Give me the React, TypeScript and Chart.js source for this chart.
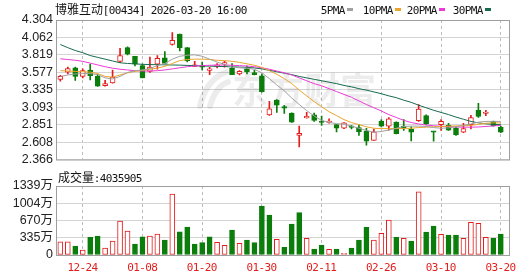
import React, { useEffect, useRef } from "react";
import { Chart, registerables } from "chart.js";

Chart.register(...registerables);

// ---------- data ----------
const dates = [
  "12-19", "12-22", "12-23", "12-24", "12-29", "12-30", "12-31", "01-02", "01-05", "01-06",
  "01-07", "01-08", "01-09", "01-12", "01-13", "01-14", "01-15", "01-16", "01-19", "01-20",
  "01-21", "01-22", "01-23", "01-26", "01-27", "01-28", "01-29", "01-30", "02-02", "02-03",
  "02-04", "02-05", "02-06", "02-09", "02-10", "02-11", "02-12", "02-13", "02-16", "02-20",
  "02-23", "02-24", "02-25", "02-26", "02-27", "03-02", "03-03", "03-04", "03-05", "03-06",
  "03-09", "03-10", "03-11", "03-12", "03-13", "03-16", "03-17", "03-18", "03-19", "03-20",
];

const opens = [
  3.48, 3.58, 3.64, 3.52, 3.61, 3.52, 3.39, 3.43, 3.73, 3.92,
  3.80, 3.67, 3.59, 3.69, 3.78, 3.965, 4.11, 3.92, 3.66, 3.66,
  3.605, 3.66, 3.69, 3.635, 3.555, 3.63, 3.575, 3.53, 2.985, 3.19,
  3.10, 3.01, 2.70, 2.945, 2.985, 2.895, 2.88, 2.85, 2.80, 2.82,
  2.81, 2.76, 2.63, 2.90, 2.83, 2.885, 2.83, 2.79, 2.905, 2.975,
  2.75, 2.85, 2.84, 2.80, 2.745, 2.85, 3.05, 3.005, 2.895, 2.815,
];
const closes = [
  3.52, 3.63, 3.52, 3.60, 3.53, 3.385, 3.42, 3.51, 3.81, 3.83,
  3.69, 3.50, 3.65, 3.77, 3.70, 4.02, 3.92, 3.74, 3.68, 3.65,
  3.615, 3.67, 3.70, 3.545, 3.59, 3.585, 3.545, 3.31, 3.07, 3.12,
  3.08, 2.885, 2.73, 2.955, 2.91, 2.88, 2.89, 2.80, 2.875, 2.81,
  2.75, 2.62, 2.75, 2.83, 2.93, 2.725, 2.805, 2.745, 3.065, 2.86,
  2.745, 2.895, 2.775, 2.71, 2.795, 2.95, 2.965, 3.015, 2.835, 2.745,
];
const highs = [
  3.535, 3.65, 3.65, 3.625, 3.69, 3.55, 3.465, 3.61, 3.91, 3.93,
  3.80, 3.69, 3.79, 3.81, 3.865, 4.13, 4.11, 3.92, 3.73, 3.72,
  3.645, 3.70, 3.73, 3.70, 3.60, 3.665, 3.61, 3.555, 3.175, 3.20,
  3.12, 3.015, 2.83, 3.02, 3.01, 2.97, 2.93, 2.85, 2.88, 2.84,
  2.85, 2.80, 2.79, 2.92, 2.95, 2.89, 2.92, 2.82, 3.13, 2.985,
  2.755, 2.92, 2.87, 2.82, 2.87, 2.98, 3.145, 3.05, 2.90, 2.83,
];
const lows = [
  3.455, 3.555, 3.465, 3.50, 3.47, 3.38, 3.385, 3.425, 3.71, 3.82,
  3.665, 3.50, 3.575, 3.62, 3.70, 3.955, 3.875, 3.72, 3.655, 3.61,
  3.545, 3.64, 3.65, 3.545, 3.54, 3.555, 3.54, 3.30, 2.98, 3.02,
  3.005, 2.88, 2.54, 2.94, 2.895, 2.84, 2.87, 2.75, 2.795, 2.79,
  2.70, 2.565, 2.63, 2.82, 2.775, 2.72, 2.77, 2.625, 2.895, 2.85,
  2.62, 2.77, 2.77, 2.70, 2.74, 2.79, 2.95, 2.975, 2.83, 2.74,
];
// volume in 万 shares
const volumes = [
  258, 258, 175, 97, 343, 369, 136, 272, 660, 466,
  213, 355, 369, 407, 291, 1184, 452, 543, 213, 239,
  355, 246, 188, 485, 226, 291, 239, 951, 776, 304,
  149, 601, 821, 323, 116, 194, 110, 116, 33, 136,
  291, 537, 291, 420, 679, 343, 323, 272, 1228, 446,
  563, 401, 388, 388, 323, 633, 614, 343, 323, 403.6,
];
const ma5 = [
  3.52, 3.54, 3.555, 3.56, 3.56, 3.545, 3.50, 3.485, 3.52, 3.575,
  3.60, 3.61, 3.63, 3.67, 3.70, 3.76, 3.80, 3.815, 3.82, 3.80,
  3.76, 3.72, 3.685, 3.65, 3.64, 3.635, 3.62, 3.57, 3.49, 3.40,
  3.32, 3.22, 3.13, 3.045, 2.97, 2.91, 2.88, 2.865, 2.855, 2.83,
  2.80, 2.77, 2.745, 2.755, 2.775, 2.80, 2.825, 2.83, 2.83, 2.825,
  2.81, 2.80, 2.805, 2.82, 2.84, 2.86, 2.885, 2.895, 2.895, 2.895,
];
const ma10 = [
  3.60, 3.595, 3.59, 3.585, 3.58, 3.56, 3.52, 3.51, 3.54, 3.57,
  3.59, 3.605, 3.62, 3.635, 3.66, 3.70, 3.74, 3.755, 3.76, 3.76,
  3.755, 3.745, 3.74, 3.73, 3.715, 3.695, 3.675, 3.645, 3.60, 3.55,
  3.49, 3.42, 3.33, 3.25, 3.17, 3.10, 3.03, 2.975, 2.92, 2.88,
  2.85, 2.82, 2.80, 2.795, 2.795, 2.795, 2.797, 2.80, 2.81, 2.815,
  2.82, 2.825, 2.83, 2.832, 2.836, 2.84, 2.855, 2.87, 2.875, 2.875,
];
const ma20 = [
  3.765, 3.755, 3.745, 3.73, 3.705, 3.68, 3.655, 3.635, 3.62, 3.61,
  3.60, 3.595, 3.595, 3.60, 3.61, 3.625, 3.64, 3.655, 3.665, 3.67,
  3.675, 3.678, 3.678, 3.675, 3.67, 3.665, 3.655, 3.64, 3.62, 3.595,
  3.57, 3.54, 3.50, 3.46, 3.42, 3.39, 3.35, 3.31, 3.27, 3.23,
  3.18, 3.13, 3.085, 3.04, 2.99, 2.95, 2.91, 2.88, 2.86, 2.845,
  2.835, 2.828, 2.822, 2.818, 2.815, 2.815, 2.818, 2.825, 2.832, 2.84,
];
const ma30 = [
  3.963, 3.92, 3.88, 3.85, 3.81, 3.785, 3.76, 3.735, 3.71, 3.70,
  3.695, 3.688, 3.685, 3.683, 3.681, 3.679, 3.677, 3.673, 3.67, 3.666,
  3.663, 3.66, 3.657, 3.653, 3.65, 3.645, 3.638, 3.625, 3.605, 3.585,
  3.565, 3.545, 3.52, 3.50, 3.48, 3.46, 3.44, 3.42, 3.395, 3.375,
  3.35, 3.33, 3.305, 3.28, 3.25, 3.225, 3.19, 3.16, 3.12, 3.085,
  3.05, 3.02, 2.99, 2.955, 2.925, 2.895, 2.875, 2.862, 2.855, 2.85,
];

const priceTicks = [2.366, 2.608, 2.851, 3.093, 3.335, 3.577, 3.819, 4.062, 4.304];
const priceTickLabels = ["2.366", "2.608", "2.851", "3.093", "3.335", "3.577", "3.819", "4.062", "4.304"];
const volTicks = [0, 335, 670, 1004, 1339];
const volTickLabels = ["0", "335万", "670万", "1004万", "1339万"];
const dateTickIndex = [3, 11, 19, 27, 35, 43, 51, 59];

const titleText = "博雅互动[00434] 2026-03-20 16:00";
const volumeText = "成交量:4035905";
const maNames = ["5PMA", "10PMA", "20PMA", "30PMA"];
const maSeries = [ma5, ma10, ma20, ma30];

// ---------- style ----------
const RED = "#e31c1c";
const GREEN = "#0a7d0a";
const MA_COLORS = ["#a0a0a0", "#eba52c", "#ec3ad6", "#176a4e"];
const LEGEND_X = [321, 363, 407, 453];
const GRID_H = "#d4d4d4";
const GRID_V = "#bdbdbd";
const FRAME = "#9e9e9e";
const TICK_FONT = { family: "'Liberation Sans', Arial, 'Noto Sans CJK SC'", size: 12.5 };
const X_MIN = -0.58;
const X_MAX = 60.1;

function drawMixedText(ctx: CanvasRenderingContext2D, text: string, x: number, y: number, align = "left") {
  const cells = Array.from(text).map((c) => ({ c, w: c.charCodeAt(0) > 255 ? 12 : 6 }));
  const total = cells.reduce((s, e) => s + e.w, 0);
  let cx = align === "center" ? x - total / 2 : x;
  ctx.save();
  ctx.textAlign = "center";
  ctx.textBaseline = "alphabetic";
  for (const { c, w } of cells) {
    ctx.font = w === 12 ? '12px "Noto Sans CJK SC"' : '11px "DejaVu Sans Mono"';
    ctx.fillText(c, cx + w / 2, y);
    cx += w;
  }
  ctx.restore();
}

const framePlugin = {
  id: "frame",
  beforeDatasetsDraw(chart: any) {
    const { ctx, chartArea: a } = chart;
    ctx.save();
    ctx.strokeStyle = FRAME;
    ctx.lineWidth = 1;
    ctx.strokeRect(a.left + 0.5, a.top + 0.5, a.right - a.left, a.bottom - a.top);
    ctx.restore();
  },
};

const watermarkPlugin = {
  id: "watermark",
  beforeDatasetsDraw(chart: any) {
    const { ctx } = chart;
    ctx.save();
    ctx.fillStyle = "rgba(0,0,0,0.075)";
    ctx.font = 'bold 36px "Noto Sans CJK SC"';
    ctx.textBaseline = "middle";
    ctx.textAlign = "left";
    ctx.fillText("东方财富", 232, 90);
    ctx.strokeStyle = "rgba(0,0,0,0.075)";
    ctx.lineWidth = 6;
    ctx.lineCap = "round";
    ctx.beginPath();
    ctx.moveTo(200, 106);
    ctx.quadraticCurveTo(206, 80, 226, 72);
    ctx.moveTo(210, 106);
    ctx.quadraticCurveTo(216, 86, 228, 82);
    ctx.stroke();
    ctx.restore();
  },
};

const headerPlugin = {
  id: "header",
  afterDraw(chart: any) {
    const { ctx } = chart;
    ctx.save();
    ctx.fillStyle = "#111";
    drawMixedText(ctx, titleText, 55, 14);
    maNames.forEach((name, k) => {
      ctx.fillStyle = "#111";
      drawMixedText(ctx, name, LEGEND_X[k], 14);
      ctx.fillStyle = MA_COLORS[k];
      ctx.fillRect(LEGEND_X[k] + name.length * 6 + 2, 8, 6, 3);
    });
    ctx.restore();
  },
};

const volHeaderPlugin = {
  id: "volHeader",
  afterDraw(chart: any) {
    const { ctx } = chart;
    const xs = chart.scales.x;
    ctx.save();
    ctx.fillStyle = "#111";
    drawMixedText(ctx, volumeText, 58, 12);
    ctx.fillStyle = RED;
    dateTickIndex.forEach((i) => {
      drawMixedText(ctx, dates[i], xs.getPixelForValue(i), 101, "center");
    });
    ctx.restore();
  },
};

const up = opens.map((o, i) => closes[i] >= o);
const volUp = closes.map((c, i) => (i === 0 ? true : c >= closes[i - 1]));

function xAxis() {
  return {
    type: "linear",
    min: X_MIN,
    max: X_MAX,
    offset: false,
    afterBuildTicks: (s: any) => {
      s.ticks = dateTickIndex.map((v) => ({ value: v }));
    },
    afterFit: (s: any) => {
      s.height = 0;
    },
    ticks: { display: false },
    grid: { color: GRID_V, drawTicks: false, lineWidth: 1, offset: false },
    border: { display: false, dash: [3, 3] },
  };
}

export default function App() {
  const priceRef = useRef<HTMLCanvasElement>(null);
  const volRef = useRef<HTMLCanvasElement>(null);

  useEffect(() => {
    const priceChart = new Chart(priceRef.current as HTMLCanvasElement, {
      type: "bar",
      data: {
        datasets: [
          ...maSeries.map((s, k) => ({
            type: "line" as const,
            label: maNames[k],
            data: s.map((y, i) => ({ x: i, y })),
            borderColor: MA_COLORS[k],
            borderWidth: 1,
            pointRadius: 0,
            tension: 0,
            fill: false,
            order: 0,
          })),
          {
            type: "bar" as const,
            label: "body",
            data: opens.map((o, i) => ({ x: i, y: [o, closes[i]] })),
            backgroundColor: up.map((u) => (u ? "#ffffff" : GREEN)),
            borderColor: up.map((u) => (u ? RED : GREEN)),
            borderWidth: 1,
            borderSkipped: false,
            barThickness: 5,
            minBarLength: 1.5,
            grouped: false,
            order: 1,
          },
          {
            type: "bar" as const,
            label: "wick",
            data: lows.map((l, i) => ({ x: i, y: [l, highs[i]] })),
            backgroundColor: up.map((u) => (u ? RED : GREEN)),
            borderWidth: 0,
            barThickness: 1,
            grouped: false,
            order: 2,
          },
        ] as any,
      },
      options: {
        animation: false,
        responsive: false,
        maintainAspectRatio: false,
        devicePixelRatio: 1,
        layout: { padding: { left: 0, top: 20, right: 21, bottom: 5 } },
        plugins: { legend: { display: false }, tooltip: { enabled: false } },
        scales: {
          x: xAxis() as any,
          y: {
            type: "linear",
            min: priceTicks[0],
            max: priceTicks[priceTicks.length - 1],
            afterBuildTicks: (s: any) => {
              s.ticks = priceTicks.map((v) => ({ value: v }));
            },
            afterFit: (s: any) => {
              s.width = 56;
            },
            ticks: {
              autoSkip: false,
              padding: 3,
              color: "#222",
              font: TICK_FONT,
              callback: (_v: any, idx: number) => priceTickLabels[idx],
            },
            grid: { color: GRID_H, drawTicks: false, lineWidth: 1 },
            border: { display: false },
          },
        },
      },
      plugins: [watermarkPlugin, framePlugin, headerPlugin],
    });

    const volChart = new Chart(volRef.current as HTMLCanvasElement, {
      type: "bar",
      data: {
        datasets: [
          {
            label: "volume",
            data: volumes.map((v, i) => ({ x: i, y: v })),
            backgroundColor: volUp.map((u) => (u ? "#ffffff" : GREEN)),
            borderColor: volUp.map((u) => (u ? RED : GREEN)),
            borderWidth: 1,
            borderSkipped: false,
            barThickness: 5,
            grouped: false,
          },
        ] as any,
      },
      options: {
        animation: false,
        responsive: false,
        maintainAspectRatio: false,
        devicePixelRatio: 1,
        layout: { padding: { left: 0, top: 16, right: 21, bottom: 21 } },
        plugins: { legend: { display: false }, tooltip: { enabled: false } },
        scales: {
          x: xAxis() as any,
          y: {
            type: "linear",
            min: volTicks[0],
            max: volTicks[volTicks.length - 1],
            afterBuildTicks: (s: any) => {
              s.ticks = volTicks.map((v) => ({ value: v }));
            },
            afterFit: (s: any) => {
              s.width = 56;
            },
            ticks: {
              autoSkip: false,
              padding: 3,
              color: "#222",
              font: TICK_FONT,
              callback: (_v: any, idx: number) => volTickLabels[idx],
            },
            grid: { color: GRID_H, drawTicks: false, lineWidth: 1 },
            border: { display: false },
          },
        },
      },
      plugins: [framePlugin, volHeaderPlugin],
    });

    return () => {
      priceChart.destroy();
      volChart.destroy();
    };
  }, []);

  return (
    <div style={{ position: "fixed", left: 0, top: 0, width: 530, height: 276, background: "#fff", overflow: "hidden" }}>
      <canvas ref={priceRef} width={530} height={170} style={{ position: "absolute", left: 0, top: 0, width: 530, height: 170 }} />
      <canvas ref={volRef} width={530} height={106} style={{ position: "absolute", left: 0, top: 170, width: 530, height: 106 }} />
    </div>
  );
}
